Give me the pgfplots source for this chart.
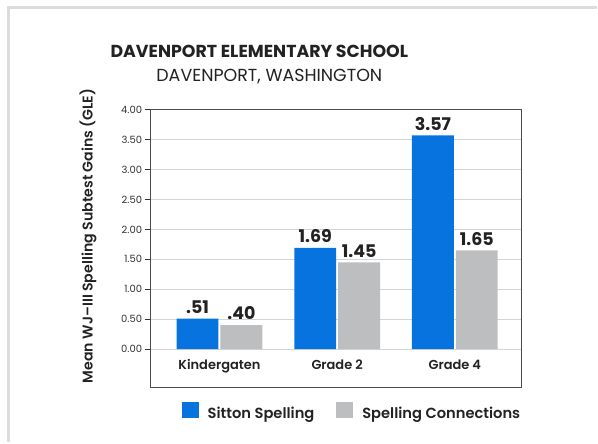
\documentclass[border=0pt]{standalone}
\usepackage{pgfplots}
\pgfplotsset{compat=1.18}
\usepackage{fontspec}
\setmainfont{Poppins}
\newfontfamily\semib{Poppins SemiBold}
\definecolor{sblue}{HTML}{0673DE}
\definecolor{sgray}{HTML}{BDBEC0}
\definecolor{txt}{HTML}{222222}
\definecolor{frame}{HTML}{DCDCDC}
% pixel -> rel axis: x=(px-151)/372, y=(388-py)/278
\begin{document}
\begin{tikzpicture}
\begin{axis}[
  scale only axis, width=372pt, height=278pt,
  ybar=2pt, bar width=42pt,
  xmin=-0.585, xmax=2.568,
  ymin=-0.633, ymax=4,
  xtick=\empty,
  ytick={0,0.5,...,4},
  ytick pos=left, tick align=outside,
  major tick length=6pt,
  ymajorgrids, grid style={draw=black!17, line width=0.8pt},
  axis line style={draw=black!70, line width=1pt},
  y tick style={draw=black!80, line width=0.8pt},
  /pgf/number format/assume math mode=true,
  yticklabel style={/pgf/number format/fixed, /pgf/number format/fixed zerofill, /pgf/number format/precision=2, font=\fontsize{10}{12}\selectfont, text=black!80, xshift=1pt},
  ylabel={Mean WJ–III Spelling Subtest Gains (GLE)},
  every axis y label/.style={at={(rel axis cs:-0.169,0.545)}, rotate=90, anchor=center, font=\semib\fontsize{14.2}{16}\selectfont, text=txt},
  point meta=explicit symbolic,
  nodes near coords,
  every node near coord/.append style={font=\bfseries\fontsize{17.5}{20}\selectfont, text=txt, inner sep=0pt, anchor=south, yshift=5pt},
  legend columns=2,
  legend style={at={(rel axis cs:0.0753,0)}, anchor=north west, yshift=-13pt, draw=none, fill=none,
    font=\semib\fontsize{14.7}{16}\selectfont, text=txt,
    nodes={inner sep=0pt}, /tikz/every odd column/.append style={column sep=9pt},
    /tikz/every even column/.append style={column sep=22pt}},
  legend image code/.code={\fill[#1] (0pt,-5pt) rectangle (17pt,11pt);},
  clip=false,
]
\addplot[fill=sblue, draw=none] coordinates {(0,0.51) [.51] (1,1.69) [1.69] (2,3.57) [3.57]};
\addplot[fill=sgray, draw=none] coordinates {(0,0.40) [.40] (1,1.45) [1.45] (2,1.65) [1.65]};
\legend{Sitton Spelling, Spelling Connections}
\node[font=\semib\fontsize{13}{15}\selectfont, text=txt, anchor=base] at (axis cs:0,-0.333) {Kindergaten};
\node[font=\semib\fontsize{13}{15}\selectfont, text=txt, anchor=base] at (axis cs:1,-0.333) {Grade 2};
\node[font=\semib\fontsize{13}{15}\selectfont, text=txt, anchor=base] at (axis cs:2,-0.333) {Grade 4};
% page box and decorations in rel axis coordinates
\path (rel axis cs:-0.405914,-0.197842) rectangle (rel axis cs:1.201613,1.395683);
\draw[frame, line width=3pt] (rel axis cs:-0.382,-0.197842) -- (rel axis cs:-0.382,1.368705) -- (rel axis cs:1.201613,1.368705);
\node[font=\bfseries\fontsize{17.4}{20}\selectfont, text=txt] at (rel axis cs:0.293011,1.2086) {DAVENPORT ELEMENTARY SCHOOL};
\node[font=\fontsize{17.5}{20}\selectfont, text=txt] at (rel axis cs:0.319892,1.1187) {DAVENPORT, WASHINGTON};
\end{axis}
\end{tikzpicture}
\end{document}
